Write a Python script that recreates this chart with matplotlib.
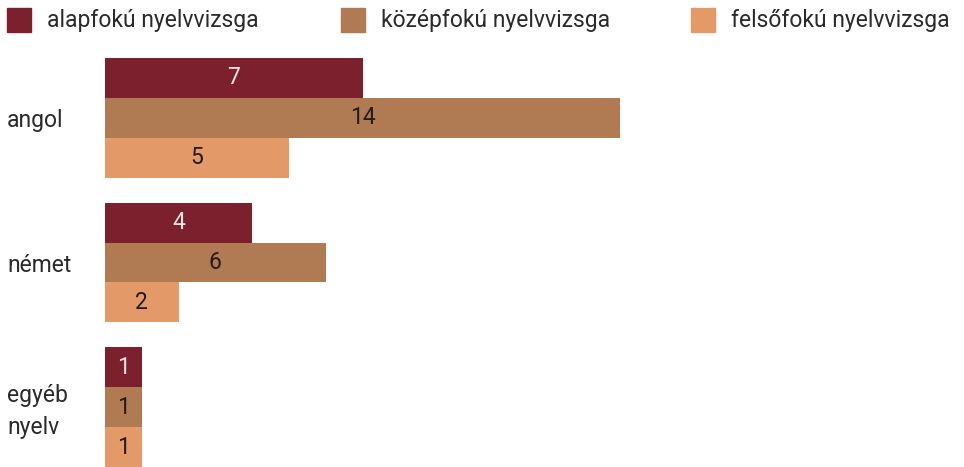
import numpy as np
import matplotlib.pyplot as plt
from matplotlib.patches import Rectangle
from matplotlib.transforms import blended_transform_factory

plt.rcParams['font.family'] = ['Roboto', 'DejaVu Sans']

# nyelvvizsgák száma nyelvenként
nyelvek = ["angol", "német", "egyéb\nnyelv"]
sorozatok = ["alapfokú nyelvvizsga", "középfokú nyelvvizsga", "felsőfokú nyelvvizsga"]
alapfoku = [7, 4, 1]
kozepfoku = [14, 6, 1]
felsofoku = [5, 2, 1]
ertekek = [alapfoku, kozepfoku, felsofoku]

szinek = ["#7c202d", "#b07a52", "#e49a68"]
cimke_szinek = ["#f2e6e8", "#221c18", "#221c18"]
szoveg_szin = "#2a2a2a"
betumeret = 16.5

W, H = 964, 467
fig = plt.figure(figsize=(W / 100, H / 100), dpi=100)

# tengely: bal széle 105 px, teteje 58 px, alja a kép alja
bal, felso, also = 105, 58, 467
ax = fig.add_axes([bal / W, (H - also) / H, (W - bal) / W, (also - felso) / H])

magassag = 40 / 145
y = np.arange(len(nyelvek))
for i, (nev, sor) in enumerate(zip(sorozatok, ertekek)):
    pos = y + (i - 1) * magassag
    ax.barh(pos, sor, height=magassag, color=szinek[i], label=nev)
    for p, v in zip(pos, sor):
        ax.text(v / 2, p, str(v), ha="center", va="center",
                fontsize=betumeret, color=cimke_szinek[i])

ax.set_xlim(0, (W - bal) / 36.8)
ax.set_ylim(2 + 1.5 * magassag, -1.5 * magassag)
ax.axis("off")

# kategórianevek a bal oldalon, soronként alapvonalra igazítva
px = (also - felso) / (2 + 3 * magassag)  # pixel / adategység
sorkoz = 32 / px
tr = blended_transform_factory(fig.transFigure, ax.transData)
for yi, nev in zip(y, nyelvek):
    sorok = nev.split("\n")
    elso = yi + 9 / px - (len(sorok) - 1) * 14 / px
    for k, s in enumerate(sorok):
        fig.text(7 / W, elso + k * sorkoz, s, transform=tr, ha="left",
                 va="baseline", fontsize=betumeret, color=szoveg_szin)

# jelmagyarázat
leg_x = [7, 341, 691]
for x0, nev, c in zip(leg_x, sorozatok, szinek):
    fig.patches.append(Rectangle((x0 / W, (H - 32) / H), 24 / W, 24 / H,
                                 transform=fig.transFigure, color=c))
    fig.text((x0 + 40) / W, (H - 20) / H, nev, ha="left", va="center",
             fontsize=betumeret, color=szoveg_szin)

fig.savefig("out.png", dpi=100)
